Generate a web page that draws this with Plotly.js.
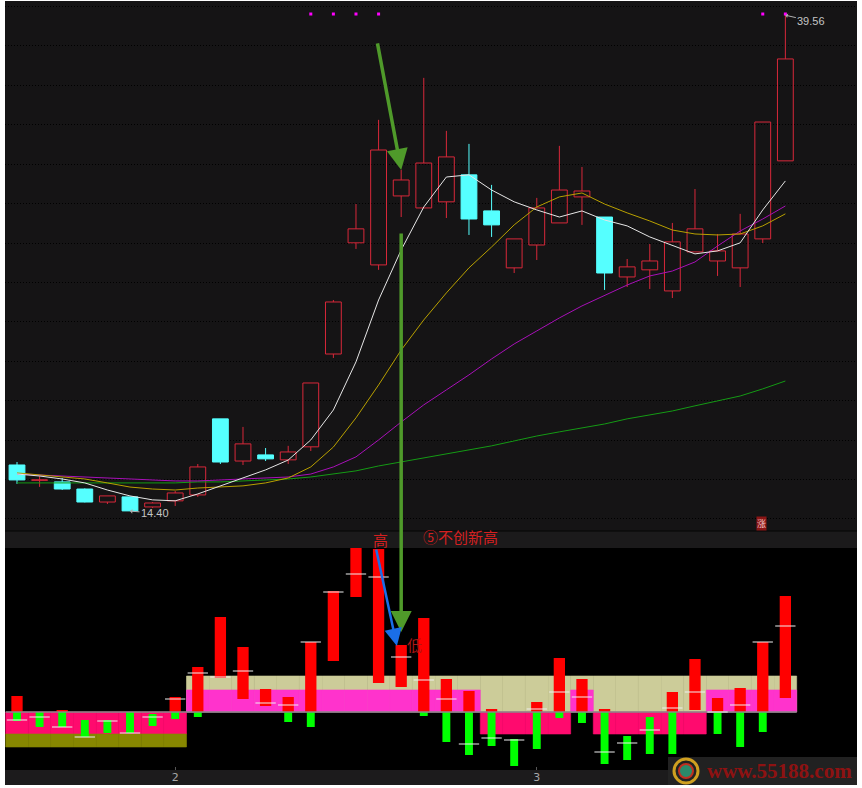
<!DOCTYPE html>
<html><head><meta charset="utf-8">
<script src="https://cdn.plot.ly/plotly-3.0.1.min.js"></script>
<style>html,body{margin:0;padding:0;background:#fff;}#chart{width:862px;height:788px;}</style>
</head><body><div id="chart"></div>
<script>
// ---- price data (35 trading days) ----
const open  = [16.74,15.96,15.88,15.52,14.86,15.12,14.61,14.92,15.22,19.08,16.94,17.25,17.00,17.66,22.37,28.01,26.89,30.39,29.78,30.09,31.46,29.63,26.74,27.90,29.02,30.34,29.32,26.28,26.64,25.57,27.55,27.09,26.74,28.21,32.17];
const close = [15.98,15.99,15.52,14.86,15.17,14.41,14.81,15.32,16.64,16.89,17.81,17.05,17.40,20.90,25.01,28.72,32.72,31.20,32.06,32.37,29.22,28.92,28.21,29.78,30.69,30.64,26.48,26.79,27.09,28.06,28.72,27.60,28.46,34.14,37.34];
const high  = [16.89,16.18,16.08,15.55,15.17,15.12,14.86,15.42,16.79,19.08,18.67,17.60,17.71,20.90,25.11,29.98,34.25,31.71,36.38,33.69,33.03,30.95,28.21,30.29,32.93,31.86,29.32,27.19,27.95,29.02,30.74,28.46,29.48,34.14,39.56];
const low   = [15.78,15.63,15.47,14.84,14.76,14.40,14.56,14.66,15.12,16.79,16.74,16.94,16.79,17.45,22.17,27.70,26.64,29.32,29.78,29.27,28.41,28.31,26.48,27.14,29.02,28.92,25.62,25.77,25.67,25.21,27.55,26.33,25.77,28.00,32.17];

// ---- moving averages ----
const ma5  = [16.28,16.18,16.03,15.83,15.47,15.17,14.97,14.92,15.27,15.68,16.08,16.49,16.99,18.01,19.53,21.97,25.11,27.65,29.83,31.35,31.46,30.69,30.09,29.68,29.32,29.63,29.17,28.87,28.31,27.90,27.45,27.60,28.01,29.68,31.15];
const ma10 = [16.34,16.23,16.13,16.03,15.83,15.62,15.52,15.47,15.57,15.62,15.68,15.83,16.08,16.64,17.65,19.13,20.80,22.57,24.10,25.47,26.74,27.80,28.92,29.83,30.34,30.54,29.98,29.53,29.12,28.66,28.46,28.41,28.46,28.87,29.48];
const ma20 = [16.28,16.23,16.18,16.13,16.08,16.03,15.98,15.93,15.93,15.98,16.03,16.08,16.13,16.28,16.64,17.15,18.01,18.92,19.79,20.55,21.31,22.12,22.88,23.54,24.20,24.81,25.32,25.87,26.33,26.58,27.04,27.85,28.61,29.22,29.88];
const ma60 = [15.83,15.83,15.83,15.83,15.83,15.83,15.83,15.83,15.88,15.88,15.93,15.98,16.03,16.13,16.28,16.44,16.69,16.89,17.10,17.30,17.50,17.71,17.96,18.21,18.42,18.62,18.82,19.08,19.28,19.48,19.74,19.99,20.24,20.60,21.00];

// signal dots at top
const signalIdx = [13,14,15,16,33,34];
const signalLevel = 39.62;

// month labels
const monthTickIdx = [7, 23];
const monthTickText = ['2', '3'];

// ---- lower indicator ----
const redBase  = [0,null,0,null,null,null,null,0,0,3.4,1.3,0.6,0,0,5.1,11.5,2.9,2.5,0,0,0,0,null,0,0,0,0,null,null,0,0.2,0,0,0,1.4];
const redTop   = [1.6,null,0.2,null,null,null,null,1.5,4.5,9.5,6.5,2.3,1.5,7.0,12.1,16.4,16.3,6.7,9.4,3.3,2.1,0.3,null,1.0,5.4,3.3,0.3,null,null,2.0,5.3,1.4,2.4,7.0,11.6];
const greenTop = [0,0,0,-0.8,-0.8,0,-0.2,0,0,null,null,null,0,0,null,null,null,null,0,0,0,0,-2.7,0,0,0,0,-2.4,-0.5,0,null,0,0,0,null];
const greenBot = [-0.9,-1.5,-1.5,-2.5,-2.1,-2.1,-1.4,-0.7,-0.5,null,null,null,-1.0,-1.5,null,null,null,null,-0.4,-3.0,-4.3,-3.4,-5.4,-3.7,-0.6,-1.1,-5.2,-4.8,-4.2,-4.2,null,-2.2,-3.5,-2.0,null];
const tickVal  = [-0.8,-0.5,-1.5,-2.5,-0.9,-2.1,-0.5,1.3,3.9,3.5,4.1,0.9,0.7,7.0,12.0,13.8,13.5,5.5,3.2,1.3,-3.2,-2.6,-2.8,0.3,2.0,1.5,-4.0,-3.1,-1.8,0.4,2.0,0,0.7,7.0,8.6];
const N = null;
const zoneHigh  = [N,N,N,N,N,N,N,N,3.6,3.6,3.6,3.6,3.6,3.6,3.6,3.6,3.6,3.6,3.6,3.6,3.6,3.6,3.6,3.6,3.6,3.6,3.6,3.6,3.6,3.6,3.6,3.6,3.6,3.6,3.6];
const zoneMid   = [N,N,N,N,N,N,N,N,2.2,2.2,2.2,2.2,2.2,2.2,2.2,2.2,2.2,2.2,2.2,2.2,2.2,N,N,N,N,2.2,N,N,N,N,N,2.2,2.2,2.2,2.2];
const zoneLow   = [-2.2,-2.2,-2.2,-2.2,-2.2,-2.2,-2.2,-2.2,N,N,N,N,N,N,N,N,N,N,N,N,N,-2.2,-2.2,-2.2,-2.2,N,-2.2,-2.2,-2.2,-2.2,-2.2,N,N,N,N];
const zoneFloor = [-3.5,-3.5,-3.5,-3.5,-3.5,-3.5,-3.5,-3.5,N,N,N,N,N,N,N,N,N,N,N,N,N,N,N,N,N,N,N,N,N,N,N,N,N,N,N];

const idx = open.map((_, i) => i);
const RED = '#d8283a', CYAN = '#55ffff';

// candles
const upI = idx.filter(i => close[i] >= open[i]);
const dnI = idx.filter(i => close[i] < open[i]);
function wicks(list) {
  const x = [], y = [];
  list.forEach(i => {
    const lo = Math.min(open[i], close[i]), hi = Math.max(open[i], close[i]);
    x.push(i, i, null, i, i, null);
    y.push(low[i], lo, null, hi, high[i], null);
  });
  return {x, y};
}
const wu = wicks(upI), wd = wicks(dnI);

const traces = [];
traces.push({type:'scatter', mode:'lines', x:wu.x, y:wu.y, line:{color:RED, width:1}});
traces.push({type:'scatter', mode:'lines', x:wd.x, y:wd.y, line:{color:CYAN, width:1}});
traces.push({type:'bar', x:upI, base:upI.map(i=>open[i]), y:upI.map(i=>Math.max(close[i]-open[i],0.02)), width:0.7,
  marker:{color:'rgba(0,0,0,0)', line:{color:RED, width:1}}});
traces.push({type:'bar', x:dnI, base:dnI.map(i=>close[i]), y:dnI.map(i=>open[i]-close[i]), width:0.7,
  marker:{color:CYAN, line:{color:CYAN, width:1}}});
// MAs
traces.push({type:'scatter', mode:'lines', x:idx, y:ma60, line:{color:'#149a14', width:1}});
traces.push({type:'scatter', mode:'lines', x:idx, y:ma20, line:{color:'#a810b8', width:1}});
traces.push({type:'scatter', mode:'lines', x:idx, y:ma10, line:{color:'#b8a000', width:1}});
traces.push({type:'scatter', mode:'lines', x:idx, y:ma5,  line:{color:'#e6e6e6', width:1}});
traces.push({type:'scatter', mode:'markers', x:signalIdx, y:signalIdx.map(()=>signalLevel),
  marker:{color:'#ff00ff', size:3, symbol:'square'}});

// lower pane zones
traces.push({type:'bar', xaxis:'x', yaxis:'y2', x:idx, base:idx.map(()=>0), y:zoneHigh, width:1,
  marker:{color:'#cccc99', line:{width:0.6, color:'#cccc99'}}});
traces.push({type:'bar', xaxis:'x', yaxis:'y2', x:idx, base:idx.map(()=>0), y:zoneMid, width:1,
  marker:{color:'#ff33cc', line:{width:0.6, color:'#ff33cc'}}});
traces.push({type:'bar', xaxis:'x', yaxis:'y2', x:idx, base:idx.map(()=>0), y:zoneLow, width:1,
  marker:{color:'#ff0a6e', line:{width:0.6, color:'#ff0a6e'}}});
traces.push({type:'bar', xaxis:'x', yaxis:'y2', x:idx, base:zoneLow, y:idx.map(i=>zoneFloor[i]==null?null:zoneFloor[i]-zoneLow[i]), width:1,
  marker:{color:'#878700', line:{width:0.6, color:'#878700'}}});
// baseline
traces.push({type:'scatter', mode:'lines', xaxis:'x', yaxis:'y2', x:[idx[0]-0.5, idx[idx.length-1]+0.5], y:[0,0],
  line:{color:'#8a8a8a', width:1.5}});
// red / green bars
traces.push({type:'bar', xaxis:'x', yaxis:'y2', x:idx, base:redBase, y:idx.map(i=>redTop[i]==null?null:redTop[i]-redBase[i]), width:0.5,
  marker:{color:'#ff0000', line:{width:0}}});
traces.push({type:'bar', xaxis:'x', yaxis:'y2', x:idx, base:greenBot, y:idx.map(i=>greenTop[i]==null?null:greenTop[i]-greenBot[i]), width:0.35,
  marker:{color:'#00ff00', line:{width:0}}});
// tick marks
const tx = [], ty = [];
idx.forEach(i => { tx.push(i-0.45, i+0.45, null); ty.push(tickVal[i], tickVal[i], null); });
traces.push({type:'scatter', mode:'lines', xaxis:'x', yaxis:'y2', x:tx, y:ty, line:{color:'#f0f0f0', width:1}});

traces.forEach(t => { t.showlegend = false; t.hoverinfo = 'skip'; });

function px(x){ return (x-5)/852; }
function py(y){ return (785-y)/784; }
const shapes = [
  {type:'rect', xref:'paper', yref:'paper', x0:0, x1:1, y0:py(548), y1:py(531), fillcolor:'#1b1a1b', line:{width:0}, layer:'below'},
  {type:'rect', xref:'paper', yref:'paper', x0:0, x1:1, y0:py(770), y1:py(548), fillcolor:'#000000', line:{width:0}, layer:'below'},
  {type:'rect', xref:'paper', yref:'paper', x0:0, x1:1, y0:0, y1:py(770), fillcolor:'#1c1b1c', line:{width:0}, layer:'below'},
  {type:'line', xref:'paper', yref:'paper', x0:0, x1:1, y0:py(531), y1:py(531), line:{color:'#050505', width:1}, layer:'below'},
  // watermark panel
  {type:'rect', xref:'paper', yref:'paper', x0:px(668), x1:1, y0:0, y1:py(757), fillcolor:'rgba(36,36,36,0.92)', line:{width:0}, layer:'above'},
  {type:'circle', xref:'paper', yref:'paper', x0:px(674), x1:px(698), y0:py(783), y1:py(759), fillcolor:'rgba(0,0,0,0)', line:{color:'#d0a020', width:3}, layer:'above'},
  {type:'circle', xref:'paper', yref:'paper', x0:px(679), x1:px(693), y0:py(778), y1:py(764), fillcolor:'#2a8a6a', line:{color:'#c03020', width:2}, layer:'above'}
];

const C = {xanchor:'center', yanchor:'middle', showarrow:false, xref:'paper', yref:'paper'};
const annotations = [
  {xref:'x', yref:'y', x:17, y:31.71, ax:-24, ay:-128, text:'', showarrow:true, arrowcolor:'#4f9a2a', arrowwidth:3.5, arrowhead:2, arrowsize:1.2},
  {xref:'x', yref:'y2', x:17, y:8.0, ax:0, ay:-400, text:'', showarrow:true, arrowcolor:'#4f9a2a', arrowwidth:3.5, arrowhead:2, arrowsize:1.2},
  {xref:'x', yref:'y2', x:16.81, y:6.6, ax:-21, ay:-98, text:'', showarrow:true, arrowcolor:'#1a6ee8', arrowwidth:2.5, arrowhead:2, arrowsize:1.4},
  {xref:'x', yref:'y', x:34, y:39.56, ax:26, ay:6, text:'39.56', showarrow:true, arrowcolor:'#b0b0b0', arrowwidth:1, arrowhead:1, arrowsize:0.8,
   font:{family:'Liberation Sans, Arial', size:11, color:'#c4c4c4'}},
  {xref:'x', yref:'y', x:5, y:14.40, ax:25, ay:2, text:'14.40', showarrow:true, arrowcolor:'#b0b0b0', arrowwidth:1, arrowhead:1, arrowsize:0.8,
   font:{family:'Liberation Sans, Arial', size:11, color:'#c4c4c4'}},
  Object.assign({}, C, {x:px(380), y:py(539), text:'高', font:{family:'Noto Sans CJK SC', size:15, color:'#d42020'}}),
  Object.assign({}, C, {x:px(460), y:py(536), text:'⑤不创新高', font:{family:'Noto Sans CJK SC', size:15, color:'#d42020'}}),
  Object.assign({}, C, {x:px(414), y:py(644), text:'低', font:{family:'Noto Sans CJK SC', size:15, color:'#b01818'}}),
  Object.assign({}, C, {x:px(761), y:py(523), text:'涨', bgcolor:'#8a1515', borderpad:0,
   font:{family:'Noto Sans CJK SC', size:9, color:'#f0c0c0'}}),
  Object.assign({}, C, {x:px(779), y:py(771), text:'<b>www.55188.com</b>',
   font:{family:'Liberation Serif', size:21, color:'#8e1212'}})
];

const layout = {
  width:862, height:788,
  margin:{l:5, r:5, t:1, b:3, pad:0},
  paper_bgcolor:'#ffffff', plot_bgcolor:'#151415',
  barmode:'overlay', showlegend:false, hovermode:false,
  xaxis:{domain:[0,1], range:[-0.531, 37.17], anchor:'y2', showgrid:false, zeroline:false, showline:false,
    tickvals:monthTickIdx, ticktext:monthTickText, ticks:'inside', ticklen:3, tickcolor:'#555555', ticklabelstandoff:-1,
    tickfont:{family:'DejaVu Sans', size:11, color:'#a8a8a8'}},
  yaxis:{domain:[py(531), 1], range:[13.39, 40.28], showticklabels:false, zeroline:false, showline:false,
    tick0:0, dtick:2, showgrid:true, gridcolor:'#000000', griddash:'1px,2px', gridwidth:1},
  yaxis2:{domain:[py(770), py(548)], range:[-5.8, 16.4], showticklabels:false, zeroline:false, showgrid:false, showline:false},
  shapes, annotations
};
Plotly.newPlot('chart', traces, layout, {staticPlot:true, displayModeBar:false});
</script></body></html>
